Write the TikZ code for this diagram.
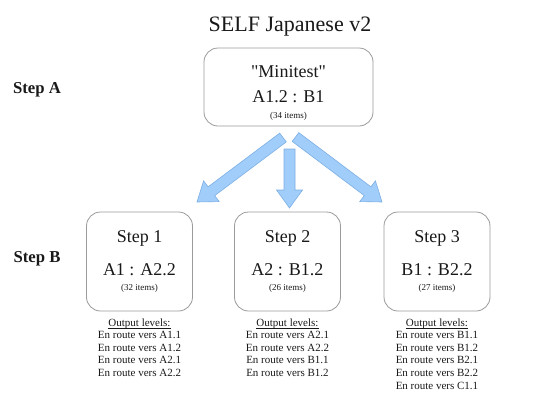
\documentclass[tikz,border=0pt]{standalone}
\usepackage{fontspec}
\setmainfont{Liberation Serif}[Ligatures=TeXOff]
\usetikzlibrary{calc}
\definecolor{arrowfill}{RGB}{160,205,250}
\definecolor{arrowline}{RGB}{125,175,228}
\definecolor{boxline}{RGB}{155,155,155}
\definecolor{txt}{RGB}{25,25,25}
\tikzset{
  stepbox/.style={draw=boxline, line width=0.8pt, rounded corners=14pt, fill=white, minimum width=106pt, minimum height=99pt, inner sep=0pt},
  topbox/.style={stepbox, minimum width=169pt, minimum height=78pt},
  bigtxt/.style={font=\fontsize{18}{20}\selectfont, text=txt, inner sep=0pt, anchor=base},
  smalltxt/.style={font=\fontsize{9}{10}\selectfont, text=txt, inner sep=0pt, anchor=base},
  listtxt/.style={font=\fontsize{11}{12}\selectfont, text=txt, inner sep=0pt, anchor=base},
  sidetxt/.style={font=\fontsize{16.7}{18}\selectfont\bfseries, text=txt, inner sep=0pt, anchor=base},
  titletxt/.style={font=\fontsize{22}{24}\selectfont, text=txt, inner sep=0pt, anchor=base},
  ulline/.style={draw=txt, line width=0.8pt},
  arrowstyle/.style={fill=arrowfill, draw=arrowline, line width=0.6pt, line join=miter}
}
\newcommand{\blockarr}[3]{%
  \coordinate (#1h) at ($(#3)!18pt!(#2)$);
  \filldraw[arrowstyle] ($(#2)!5.5pt!90:(#3)$) -- ($(#1h)!5.5pt!-90:(#2)$) -- ($(#1h)!13pt!-90:(#2)$) -- (#3) -- ($(#1h)!13pt!90:(#2)$) -- ($(#1h)!5.5pt!90:(#2)$) -- ($(#2)!5.5pt!-90:(#3)$) -- cycle;
}
\begin{document}
\begin{tikzpicture}[x=1pt,y=-1pt]
\useasboundingbox (0,0) rectangle (542,400);
% title
\node[titletxt] (title) at (290,31) {SELF Japanese v2};
% side labels
\node[sidetxt] (stepA) at (37,93) {Step A};
\node[sidetxt] (stepB) at (37,262) {Step B};
% top box
\node[topbox] (top) at (288.5,87) {};
\node[bigtxt] (mini) at (288.5,77) {"Minitest"};
\node[bigtxt] (toplvl) at (288.5,102) {A1.2 : B1};
\node[smalltxt] (topitems) at (288.5,118) {(34 items)};
% bottom boxes
\node[stepbox] (b1) at (139.5,261.5) {};
\node[stepbox] (b2) at (287.5,261.5) {};
\node[stepbox] (b3) at (437,261.5) {};
\node[bigtxt] (s1) at (139.5,242) {Step 1};
\node[bigtxt] (s2) at (287.5,242) {Step 2};
\node[bigtxt] (s3) at (437,242) {Step 3};
\node[bigtxt] (l1) at (139.5,275.5) {A1 : A2.2};
\node[bigtxt] (l2) at (287.5,275.5) {A2 : B1.2};
\node[bigtxt] (l3) at (437,275.5) {B1 : B2.2};
\node[smalltxt] (i1) at (139.5,290.5) {(32 items)};
\node[smalltxt] (i2) at (287.5,290.5) {(26 items)};
\node[smalltxt] (i3) at (437,290.5) {(27 items)};
% output levels
\node[listtxt] (o1h) at (139.5,326) {Output levels:};
\node[listtxt] (o2h) at (287.5,326) {Output levels:};
\node[listtxt] (o3h) at (437,326) {Output levels:};
\foreach \h in {o1h,o2h,o3h}
  \draw[ulline] ([yshift=-2pt]\h.base west) -- ([yshift=-2pt]\h.base east);
\foreach \lv [count=\n] in {A1.1,A1.2,A2.1,A2.2}
  \node[listtxt] (o1-\n) at (139.5,326+12.6*\n) {En route vers \lv};
\foreach \lv [count=\n] in {A2.1,A2.2,B1.1,B1.2}
  \node[listtxt] (o2-\n) at (287.5,326+12.6*\n) {En route vers \lv};
\foreach \lv [count=\n] in {B1.1,B1.2,B2.1,B2.2,C1.1}
  \node[listtxt] (o3-\n) at (437,326+12.6*\n) {En route vers \lv};
% arrows
\coordinate (aLs) at (283,137.5);
\coordinate (aLe) at (197,202);
\coordinate (aCs) at (289.5,149);
\coordinate (aCe) at (289.5,208);
\coordinate (aRs) at (295.5,137);
\coordinate (aRe) at (382,202);
\blockarr{aL}{aLs}{aLe}
\blockarr{aC}{aCs}{aCe}
\blockarr{aR}{aRs}{aRe}
\end{tikzpicture}
\end{document}
